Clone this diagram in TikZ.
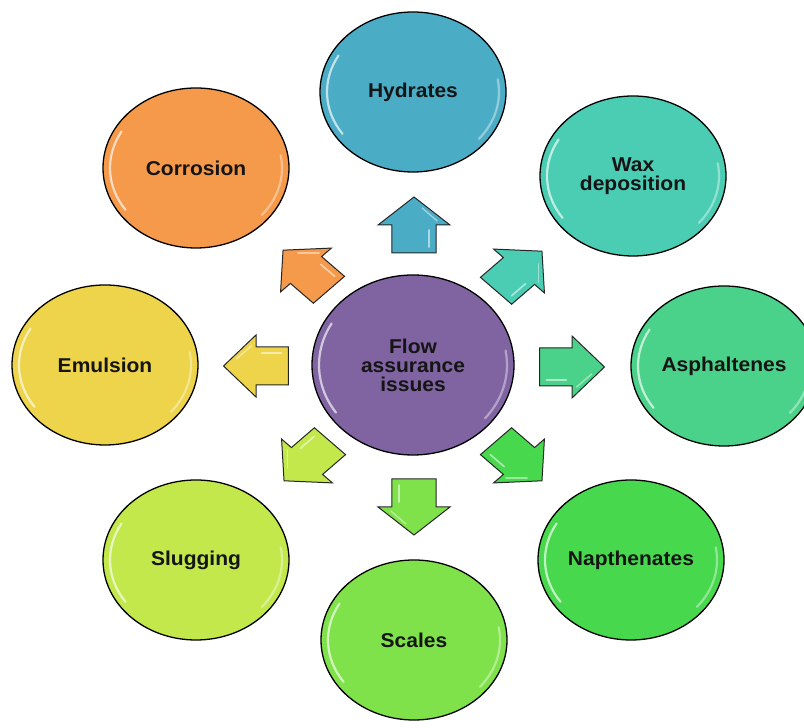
\documentclass[tikz,border=0pt]{standalone}
\usepackage{fontspec}
\setmainfont{Liberation Sans}[FakeStretch=1.05]
\usetikzlibrary{shapes.geometric}
\definecolor{cHyd}{HTML}{4BACC6}
\definecolor{cWax}{HTML}{4BCDB4}
\definecolor{cAsp}{HTML}{4BD28A}
\definecolor{cNap}{HTML}{48D84E}
\definecolor{cSca}{HTML}{7FE24A}
\definecolor{cSlu}{HTML}{C2E84C}
\definecolor{cEmu}{HTML}{EDD44A}
\definecolor{cCor}{HTML}{F5994A}
\definecolor{cCen}{HTML}{8064A2}
\definecolor{txt}{HTML}{151515}
\tikzset{
  bubble/.style={ellipse, draw=black, line width=1.3pt, minimum width=186pt, minimum height=160pt, inner sep=0pt, align=center, text=txt, font=\fontsize{20}{19}\selectfont\bfseries},
  hubble/.style={bubble, minimum width=202pt, minimum height=180pt},
  gloss/.style={white, line width=2.2pt, opacity=0.65, line cap=round},
  barrow/.style={draw=black!85, line width=1pt, line join=miter}
}
\newcommand\blockarrow[4]{%
  \begin{scope}[shift={(#1,#2)},xscale=1.16,rotate=#3]
    \draw[barrow, fill=#4] (-28,-19) -- (0,-19) -- (0,-31) -- (28,0) -- (0,31) -- (0,19) -- (-28,19) -- cycle;
    \draw[white, opacity=0.55, line width=1.6pt, line cap=round] (-22,-13) -- (-5,-13);
    \draw[white, opacity=0.45, line width=1.4pt, line cap=round] (4,-20) -- (17,-7);
  \end{scope}}
\newcommand\glossy[3]{%
  \draw[gloss] (#1.center) ++(150:#2 and #3) arc[start angle=150, end angle=215, x radius=#2, y radius=#3];
  \draw[gloss, opacity=0.4] (#1.center) ++(-40:#2 and #3) arc[start angle=-40, end angle=10, x radius=#2, y radius=#3];}
\begin{document}
\begin{tikzpicture}[x=1pt,y=1pt]
\useasboundingbox (0,0) rectangle (804,728);
\clip (0,0) rectangle (804,728);
\fill[white] (0,0) rectangle (804,728);

\node[hubble, fill=cCen] (cen) at (413,363) {Flow\\assurance\\issues};
\node[bubble, fill=cHyd] (hyd) at (413,636) {Hydrates};
\node[bubble, fill=cWax] (wax) at (633,552) {Wax\\deposition};
\node[bubble, fill=cAsp] (asp) at (724,362) {Asphaltenes};
\node[bubble, fill=cNap] (nap) at (631,168) {Napthenates};
\node[bubble, fill=cSca] (sca) at (414,88) {Scales};
\node[bubble, fill=cSlu] (slu) at (196,168) {Slugging};
\node[bubble, fill=cEmu] (emu) at (105,363) {Emulsion};
\node[bubble, fill=cCor] (cor) at (196,560) {Corrosion};

\glossy{cen}{94}{83}
\glossy{hyd}{86}{73}
\glossy{wax}{86}{73}
\glossy{asp}{86}{73}
\glossy{nap}{86}{73}
\glossy{sca}{86}{73}
\glossy{slu}{86}{73}
\glossy{emu}{86}{73}
\glossy{cor}{86}{73}

\blockarrow{414}{503}{90}{cHyd}
\blockarrow{519}{457}{45}{cWax}
\blockarrow{572}{361}{0}{cAsp}
\blockarrow{519}{267}{-45}{cNap}
\blockarrow{414}{221}{-90}{cSca}
\blockarrow{307}{267}{225}{cSlu}
\blockarrow{256}{362}{180}{cEmu}
\blockarrow{306}{458}{135}{cCor}
\end{tikzpicture}
\end{document}
